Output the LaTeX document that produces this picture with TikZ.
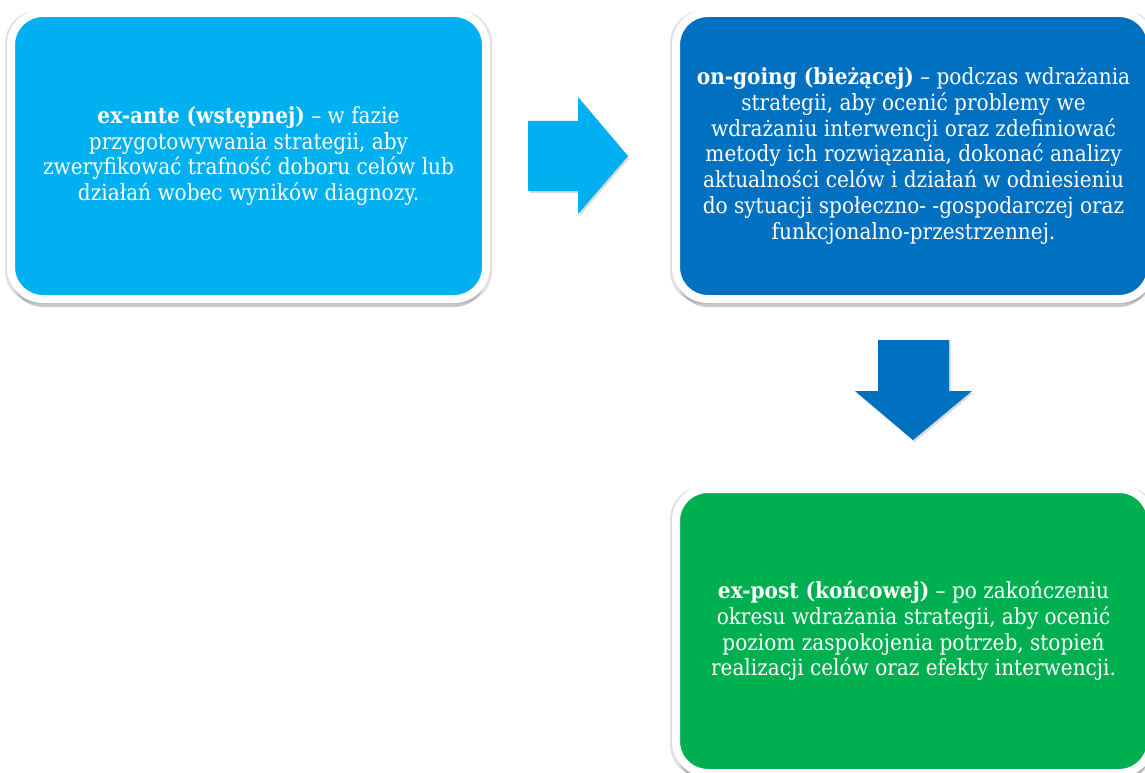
\documentclass[tikz,border=0pt]{standalone}
\usepackage{fontspec}
\setmainfont{DejaVu Serif Condensed}
\usetikzlibrary{shadows}
\definecolor{cLight}{HTML}{00B0F0}
\definecolor{cDark}{HTML}{0070C0}
\definecolor{cGreen}{HTML}{00B050}
\tikzset{
  card/.style={rounded corners=32pt, draw=white, line width=8pt, text=white,
    align=center, inner sep=0pt, font=\fontsize{22.3}{25.7}\selectfont,
    minimum width=475pt,
    drop shadow={opacity=0.12, fill=black, shadow xshift=0pt, shadow yshift=-1pt, shadow scale=1.025},
    drop shadow={opacity=0.3, fill=black!70, shadow xshift=0pt, shadow yshift=-8pt, shadow scale=1.0}},
  arrowshadow/.style={drop shadow={opacity=0.3, shadow xshift=1.5pt, shadow yshift=-2pt}}
}
\begin{document}
\begin{tikzpicture}[x=1pt,y=-1pt]
\useasboundingbox (0,0) rectangle (1145,773);
\node[card, fill=cLight, minimum height=286pt] (exante) at (248.5,156)
  {\textbf{ex-ante (wstępnej)} – w fazie\\przygotowywania strategii, aby\\zweryfikować trafność doboru celów lub\\działań wobec wyników diagnozy.};
\node[card, fill=cDark, minimum height=286pt] (ongoing) at (913.5,156)
  {\textbf{on-going (bieżącej)} – podczas wdrażania\\strategii, aby ocenić problemy we\\wdrażaniu interwencji oraz zdefiniować\\metody ich rozwiązania, dokonać analizy\\aktualności celów i działań w odniesieniu\\do sytuacji społeczno- -gospodarczej oraz\\funkcjonalno-przestrzennej.};
\node[card, fill=cGreen, minimum height=284pt] (expost) at (913.5,631)
  {\textbf{ex-post (końcowej)} – po zakończeniu\\okresu wdrażania strategii, aby ocenić\\poziom zaspokojenia potrzeb, stopień\\realizacji celów oraz efekty interwencji.};
% right arrow
\fill[cLight, arrowshadow]
  (528,121) -- (578,121) -- (578,97) -- (628,156) -- (578,214) -- (578,191) -- (528,191) -- cycle;
% down arrow
\fill[cDark, arrowshadow]
  (878,340) -- (949,340) -- (949,391) -- (972,391) -- (913,440) -- (855,391) -- (878,391) -- cycle;
\end{tikzpicture}
\end{document}
